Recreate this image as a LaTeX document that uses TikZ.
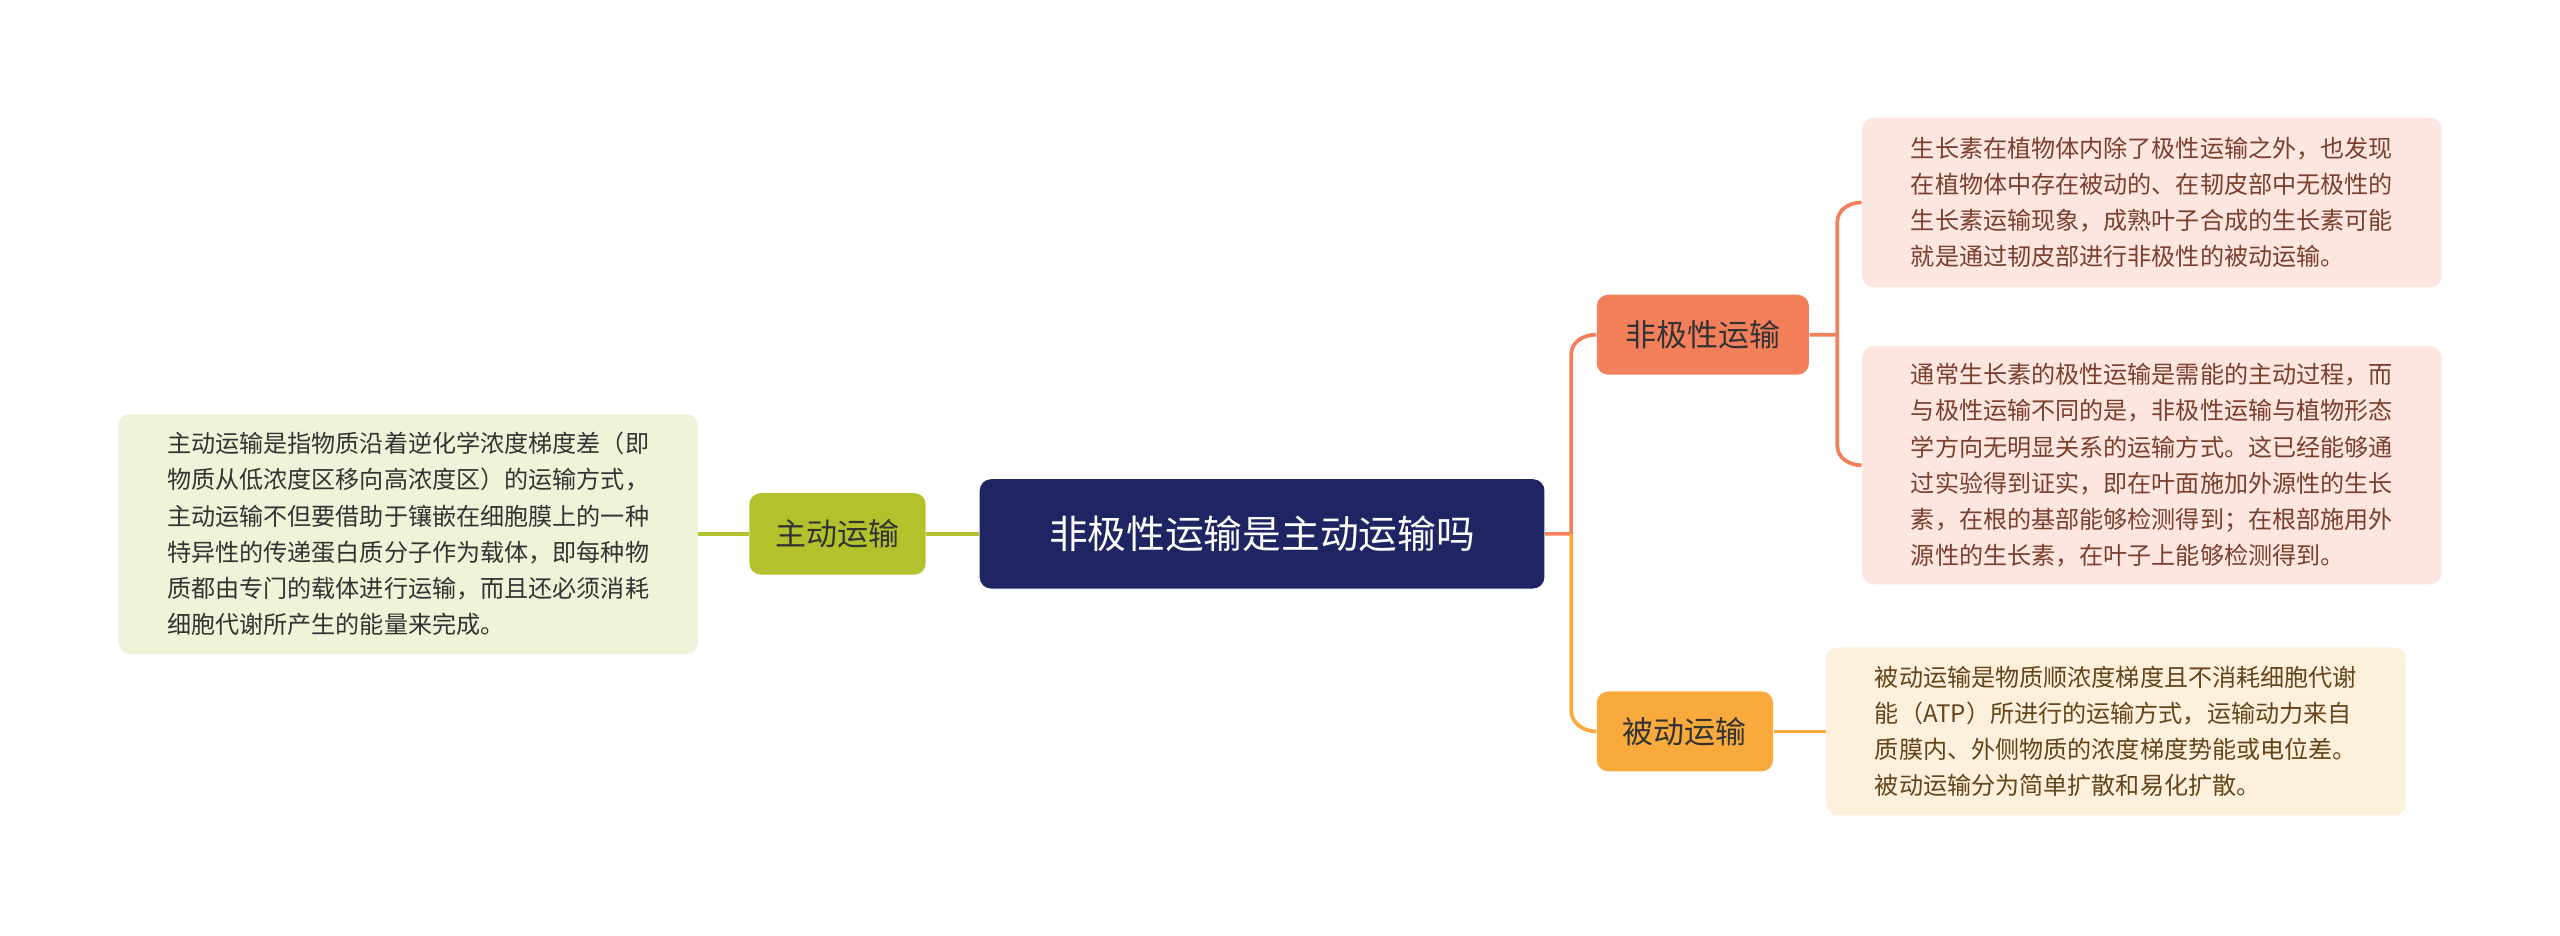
\documentclass[tikz,border=0pt]{standalone}
\usepackage{fontspec}
\setmainfont{Noto Sans CJK SC}
\usetikzlibrary{positioning}
\definecolor{rootblue}{HTML}{1F2563}
\definecolor{leafgreen}{HTML}{B3C22C}
\definecolor{lightgreen}{HTML}{EFF4D8}
\definecolor{redorange}{HTML}{F47F5B}
\definecolor{lightred}{HTML}{FDE6E0}
\definecolor{amber}{HTML}{F9AA3C}
\definecolor{lightamber}{HTML}{FDF0DD}
\tikzset{
  topic/.style = {rectangle, rounded corners=4pt, inner sep=0pt, text centered},
  note/.style = {rectangle, rounded corners=4pt, inner sep=0pt, align=left, font=\fontsize{8.4}{12.6}\selectfont},
  link/.style = {line width=1.3pt}
}
\begin{document}
\begin{tikzpicture}[x=0.02cm, y=-0.02cm]
    \useasboundingbox (0,0) rectangle (1568,573);
    % Topics
    \node[topic, fill=rootblue, text=white, minimum width=6.92cm, minimum height=1.34cm,
          font=\fontsize{13.5}{16}\selectfont] (root) at (773,327) {非极性运输是主动运输吗};
    \node[topic, fill=leafgreen, text=black!80, minimum width=2.16cm, minimum height=1cm,
          font=\fontsize{10.8}{13}\selectfont] (active) at (513,327) {主动运输};
    \node[topic, fill=redorange, text=black!80, minimum width=2.6cm, minimum height=0.98cm,
          font=\fontsize{10.8}{13}\selectfont] (nonpolar) at (1043,205) {非极性运输};
    \node[topic, fill=amber, text=black!80, minimum width=2.16cm, minimum height=0.98cm,
          font=\fontsize{10.8}{13}\selectfont] (passive) at (1032,448) {被动运输};
    % Notes
    \node[note, fill=lightgreen, text=black!80, minimum width=7.1cm, minimum height=2.94cm] (activenote) at (250,327)
        {主动运输是指物质沿着逆化学浓度梯度差（即\\物质从低浓度区移向高浓度区）的运输方式，\\主动运输不但要借助于镶嵌在细胞膜上的一种\\特异性的传递蛋白质分子作为载体，即每种物\\质都由专门的载体进行运输，而且还必须消耗\\细胞代谢所产生的能量来完成。};
    \node[note, fill=lightred, text=redorange!50!black, minimum width=7.1cm, minimum height=2.08cm] (noteA) at (1318,124)
        {生长素在植物体内除了极性运输之外，也发现\\在植物体中存在被动的、在韧皮部中无极性的\\生长素运输现象，成熟叶子合成的生长素可能\\就是通过韧皮部进行非极性的被动运输。};
    \node[note, fill=lightred, text=redorange!50!black, minimum width=7.1cm, minimum height=2.92cm] (noteB) at (1318,285)
        {通常生长素的极性运输是需能的主动过程，而\\与极性运输不同的是，非极性运输与植物形态\\学方向无明显关系的运输方式。这已经能够通\\过实验得到证实，即在叶面施加外源性的生长\\素，在根的基部能够检测得到；在根部施用外\\源性的生长素，在叶子上能够检测得到。};
    \node[note, fill=lightamber, text=amber!40!black, minimum width=7.1cm, minimum height=2.06cm] (passivenote) at (1296,448)
        {被动运输是物质顺浓度梯度且不消耗细胞代谢\\能（ATP）所进行的运输方式，运输动力来自\\质膜内、外侧物质的浓度梯度势能或电位差。\\被动运输分为简单扩散和易化扩散。};
    % Connectors
    \draw[link, leafgreen] (root.west) -- (active.east);
    \draw[link, leafgreen] (active.west) -- (activenote.east);
    \draw[link, redorange] (root.east) -- ++(16,0) coordinate (fork)
        -- ++(0,-110) to[out=90,in=180] (nonpolar.west);
    \draw[link, amber] (fork) -- ++(0,108) to[out=-90,in=180] (passive.west);
    \draw[link, redorange] (nonpolar.east) -- ++(17,0) coordinate (split)
        |- ++(0,-69) to[out=90,in=180] (noteA.west);
    \draw[link, redorange] (split) -- ++(0,68) to[out=-90,in=180] (noteB.west);
    \draw[link, amber] (passive.east) -- (passivenote.west);
\end{tikzpicture}
\end{document}
